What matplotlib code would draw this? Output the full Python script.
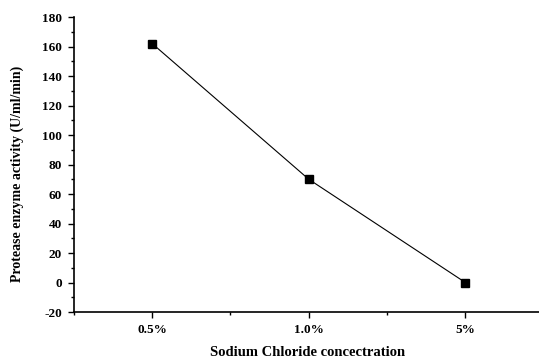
import matplotlib
matplotlib.use('Agg')
import matplotlib.pyplot as plt
from matplotlib.ticker import MultipleLocator

plt.rcParams['font.family'] = ['Liberation Serif', 'DejaVu Serif']
plt.rcParams['font.weight'] = 'bold'
plt.rcParams['axes.unicode_minus'] = False

categories = ['0.5%', '1.0%', '5%']
activity = [162, 70, 0]

fig = plt.figure(figsize=(5.39, 3.62), dpi=100)
ax = fig.add_axes([0.137, 0.138, 0.863, 0.815])

x = range(len(categories))
ax.plot(x, activity, color='black', linewidth=0.8, marker='s', markersize=5.5,
        markerfacecolor='black', markeredgecolor='black')

ax.set_xlim(-0.5, 2.47)
ax.set_ylim(-20, 180)
ax.set_xticks(list(x))
ax.set_xticklabels(categories)
ax.xaxis.set_minor_locator(MultipleLocator(0.5))
ax.yaxis.set_major_locator(MultipleLocator(20))
ax.yaxis.set_minor_locator(MultipleLocator(10))

for s in ['top', 'right']:
    ax.spines[s].set_visible(False)
for s in ['left', 'bottom']:
    ax.spines[s].set_linewidth(1.2)

ax.tick_params(which='major', direction='out', length=4.5, width=1, labelsize=9.5, pad=4)
ax.tick_params(which='minor', direction='out', length=2.5, width=1)
for lab in ax.get_xticklabels() + ax.get_yticklabels():
    lab.set_fontweight('bold')

ax.set_xlabel('Sodium Chloride concectration', fontsize=10.5, fontweight='bold')
ax.xaxis.set_label_coords(0.503, -0.115)
ax.set_ylabel('Protease enzyme activity (U/ml/min)', fontsize=10, fontweight='bold')
ax.yaxis.set_label_coords(-0.108, 0.47)

fig.savefig('out.png', dpi=100)
